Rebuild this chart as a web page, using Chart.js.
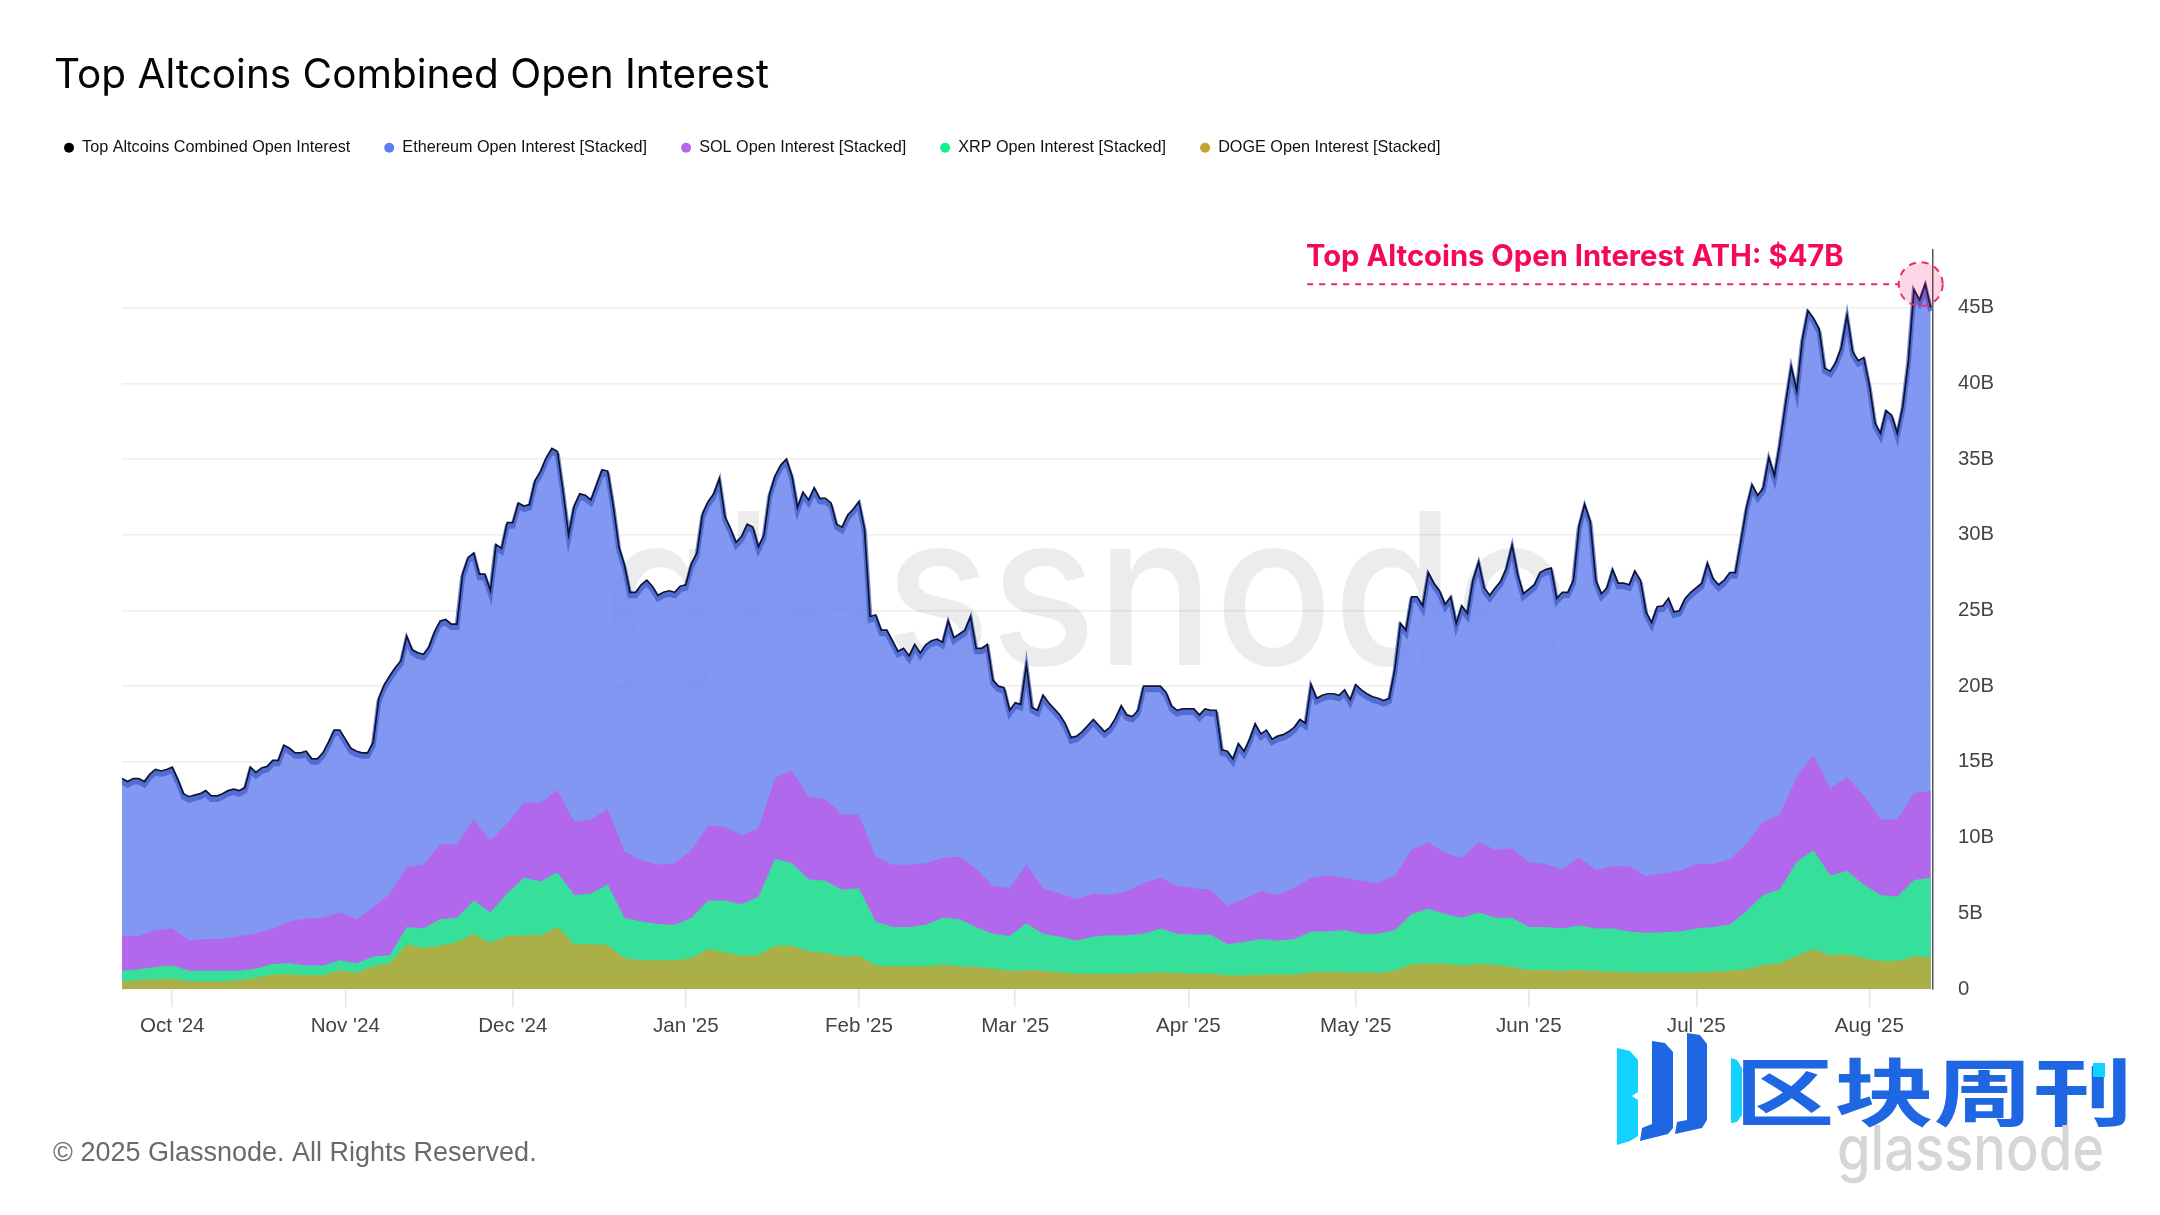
<!DOCTYPE html>
<html>
<head>
<meta charset="utf-8">
<style>html,body{margin:0;padding:0;background:#fff}canvas{display:block}</style>
<script src="https://cdn.jsdelivr.net/npm/chart.js@4/dist/chart.umd.min.js"></script>
</head>
<body>
<canvas id="c" width="2160" height="1215"></canvas>
<script>
const titleText = "Top Altcoins Combined Open Interest";
const seriesNames = ["Top Altcoins Combined Open Interest","Ethereum Open Interest [Stacked]","SOL Open Interest [Stacked]","XRP Open Interest [Stacked]","DOGE Open Interest [Stacked]"];
const tickDays = [9,40,70,101,132,160,191,221,252,282,313];
const tickLabels = ["Oct '24","Nov '24","Dec '24","Jan '25","Feb '25","Mar '25","Apr '25","May '25","Jun '25","Jul '25","Aug '25"];
const yTicks = [0,5,10,15,20,25,30,35,40,45];
const athLevel = 46.55;
// Daily readings, billions USD, first value = 22 Sep 2024
const combined = [13.9,13.7,13.9,13.9,13.7,14.2,14.5,14.4,14.5,14.65,13.85,12.9,12.7,12.8,12.9,13.1,12.75,12.75,12.9,13.1,
13.2,13.1,13.3,14.65,14.3,14.6,14.7,15.1,15.1,16.1,15.9,15.6,15.6,15.7,15.2,15.2,15.6,16.3,17.1,17.1,
16.5,15.9,15.7,15.6,15.6,16.3,19.2,20.1,20.7,21.25,21.7,23.3,22.4,22.2,22.1,22.6,23.6,24.3,24.4,24.1,
24.1,27.4,28.5,28.8,27.4,27.4,26.3,29.35,29.1,30.8,30.8,32.1,31.9,32.0,33.6,34.2,35.1,35.7,35.5,32.9,
30.0,31.9,32.7,32.6,32.3,33.3,34.3,34.2,31.9,29.2,28.0,26.2,26.2,26.7,27.0,26.6,26.0,26.2,26.3,26.2,
26.6,26.7,28.1,28.8,31.4,32.2,32.7,33.7,31.2,30.4,29.5,29.9,30.7,30.5,29.2,30.0,32.7,33.9,34.6,35.0,
33.9,31.8,32.8,32.3,33.1,32.4,32.4,32.1,30.7,30.5,31.3,31.7,32.2,30.4,24.6,24.7,23.7,23.7,23.0,22.3,
22.5,22.0,22.75,22.2,22.75,23.0,23.1,22.9,24.3,23.2,23.45,23.7,24.6,22.5,22.5,22.75,20.4,20.0,19.9,18.4,
18.9,18.8,21.4,18.6,18.4,19.4,18.9,18.5,18.1,17.5,16.6,16.7,17.0,17.4,17.8,17.4,17.0,17.3,17.9,18.7,
18.1,18.0,18.4,20.0,20.0,20.0,20.0,19.6,18.7,18.4,18.5,18.5,18.5,18.1,18.5,18.4,18.4,15.8,15.7,15.2,
16.2,15.7,16.5,17.5,16.85,17.1,16.5,16.7,16.8,17.0,17.3,17.8,17.55,20.1,19.2,19.4,19.5,19.5,19.4,19.75,
19.1,20.1,19.75,19.5,19.3,19.2,19.05,19.2,21.1,24.15,23.7,25.9,25.9,25.3,27.5,26.8,26.3,25.4,25.9,24.15,
25.3,24.8,27.0,28.2,26.5,26.0,26.5,26.95,27.8,29.3,27.4,26.1,26.4,26.7,27.5,27.7,27.8,25.8,26.2,26.2,
27.0,30.6,32.0,30.9,27.0,26.1,26.5,27.7,26.8,26.8,26.7,27.6,27.0,24.9,24.2,25.25,25.3,25.8,24.9,25.0,
25.8,26.2,26.5,26.8,28.1,27.1,26.7,27.0,27.5,27.5,29.6,31.8,33.3,32.6,33.1,35.1,33.9,36.1,38.7,41.1,
39.5,42.9,44.8,44.3,43.6,41.0,40.8,41.4,42.4,44.5,42.1,41.5,41.7,39.9,37.4,36.7,38.2,37.9,36.7,38.5,
41.5,46.2,45.5,46.55,45.0];
// Stack tops read every third day, billions USD
const solTop = [3.54,3.5,3.9,4.0,3.2,3.3,3.3,3.5,3.65,4.0,4.45,4.65,4.7,5.05,4.6,5.4,6.3,8.05,8.2,9.55,9.55,11.2,9.8,10.95,12.3,12.3,13.15,11.05,
11.2,11.9,9.1,8.5,8.2,8.3,9.2,10.8,10.7,10.15,10.6,13.95,14.4,12.7,12.55,11.5,11.5,8.75,8.2,8.2,8.3,8.65,8.75,7.95,6.8,6.65,8.2,6.65,
6.3,5.95,6.3,6.2,6.45,7.0,7.35,6.8,6.65,6.55,5.5,5.95,6.45,6.2,6.65,7.35,7.5,7.35,7.15,7.0,7.5,9.2,9.7,9.0,8.65,9.7,9.2,
9.3,8.35,8.25,7.9,8.7,7.85,8.1,8.1,7.45,7.65,7.8,8.25,8.25,8.55,9.6,11.05,11.5,14.0,15.45,13.25,14.0,12.8,11.2,11.2,12.95,13.1];
const xrpTop = [1.2,1.3,1.45,1.55,1.2,1.2,1.2,1.2,1.35,1.65,1.7,1.55,1.55,1.9,1.7,2.15,2.25,4.1,4.0,4.6,4.7,5.85,5.05,6.3,7.35,7.1,7.7,6.2,
6.3,6.9,4.7,4.45,4.3,4.25,4.7,5.85,5.85,5.6,6.1,8.6,8.3,7.25,7.15,6.55,6.65,4.45,4.1,4.1,4.25,4.7,4.6,4.1,3.65,3.5,4.35,3.65,
3.45,3.2,3.45,3.55,3.55,3.65,4.0,3.65,3.6,3.6,2.95,3.1,3.3,3.2,3.3,3.8,3.8,3.9,3.65,3.65,3.9,4.95,5.3,4.95,4.7,5.05,4.7,
4.7,4.1,4.1,4.0,4.2,4.0,4.0,3.8,3.7,3.75,3.8,4.0,4.1,4.25,5.15,6.2,6.6,8.4,9.15,7.5,7.8,6.9,6.2,6.1,7.2,7.35];
const dogeTop = [0.5,0.6,0.65,0.7,0.5,0.5,0.5,0.6,0.75,0.95,0.95,0.9,0.9,1.25,1.05,1.5,1.7,2.95,2.7,2.85,3.1,3.65,3.05,3.5,3.55,3.55,4.1,2.95,
2.95,2.9,2.05,1.9,1.9,1.9,2.05,2.65,2.4,2.2,2.25,2.85,2.85,2.5,2.4,2.15,2.2,1.55,1.5,1.5,1.5,1.6,1.5,1.45,1.35,1.2,1.25,1.2,
1.1,1.0,1.0,1.0,1.0,1.05,1.1,1.05,1.0,1.0,0.9,0.9,0.95,0.95,0.95,1.1,1.15,1.1,1.1,1.05,1.2,1.65,1.7,1.65,1.55,1.65,1.6,
1.45,1.25,1.25,1.2,1.25,1.2,1.15,1.1,1.1,1.1,1.1,1.1,1.15,1.2,1.3,1.6,1.7,2.2,2.65,2.25,2.3,2.05,1.85,1.85,2.15,2.1];

const legendColors = ["#000000","#5f7df0","#b566ee","#14f08f","#c2a534"];
const SANS = '"Liberation Sans", Arial, sans-serif';
const daily = a => a.map((y,i)=>({x:i,y}));
const third = a => a.map((y,i)=>({x:i*3,y}));
const BAND_SHIFT = 3.5;

const layers = {
  id:'layers',
  beforeDatasetDraw(chart,args){
    if(args.index===1){chart.ctx.save();chart.ctx.translate(0,BAND_SHIFT);}
  },
  afterDatasetDraw(chart,args){
    if(args.index===1){chart.ctx.restore();}
  },
  afterLayout(chart){
    chart.titleBlock.left += 24; chart.titleBlock.right += 24;
  },
  beforeDatasetsDraw(chart){
    const c=chart.ctx; c.save();
    c.font='500 212px Inter, sans-serif'; c.fillStyle='rgba(0,0,0,0.075)';
    c.textAlign='left'; c.textBaseline='alphabetic';
    c.fillText('glassnode',602,665,968);
    c.restore();
  },
  afterDraw(chart){
    const c=chart.ctx, x=chart.scales.x, y=chart.scales.y; c.save();
    // ATH annotation
    const ay=y.getPixelForValue(athLevel), cx=x.getPixelForValue(322.2);
    c.strokeStyle='#ec2a6e'; c.lineWidth=2; c.setLineDash([6,6]);
    c.beginPath(); c.moveTo(x.getPixelForValue(212.3),ay); c.lineTo(cx-22,ay); c.stroke();
    c.fillStyle='rgba(245,20,100,0.17)'; c.setLineDash([7,6]);
    c.beginPath(); c.arc(cx,ay,22,0,Math.PI*2); c.fill(); c.stroke();
    c.setLineDash([]);
    c.fillStyle='#f5075b'; c.font='700 29.2px Inter, sans-serif'; c.textBaseline='middle'; c.textAlign='left';
    c.fillText('Top Altcoins Open Interest ATH: $47B',1306,257);
    // footer
    c.fillStyle='#6a6a6a'; c.font='27px '+SANS; c.fillText('© 2025 Glassnode. All Rights Reserved.',53,1154);
    // corner logo
    const poly=(col,p)=>{c.fillStyle=col;c.beginPath();p.forEach((q,i)=>i?c.lineTo(q[0],q[1]):c.moveTo(q[0],q[1]));c.closePath();c.fill();};
    poly('#12d2ff',[[1617,1048],[1630,1051],[1638,1060],[1638,1092],[1632,1096],[1638,1100],[1638,1136],[1630,1141],[1617,1145]]);
    poly('#1e66e2',[[1652,1041],[1665,1043],[1673,1052],[1673,1128],[1668,1134],[1640,1141],[1642,1128],[1652,1124]]);
    poly('#1e66e2',[[1687,1033],[1700,1035],[1707,1044],[1707,1120],[1702,1128],[1675,1134],[1677,1122],[1687,1120]]);
    poly('#12d2ff',[[1731,1058],[1737,1060],[1742,1068],[1742,1115],[1737,1122],[1731,1123]]);
    c.fillStyle='#1e66e2'; c.textBaseline='middle'; c.textAlign='left';
    c.save(); c.translate(1735,1092); c.scale(1.343,1);
    c.font='700 74px "Noto Sans CJK SC", sans-serif'; c.fillText('区块周刊',0,0); c.restore();
    poly('#12d2ff',[[2093,1063],[2105,1063],[2105,1077],[2093,1077]]);
    c.fillStyle='#d6d6d6'; c.font='500 62px Inter, sans-serif'; c.textBaseline='alphabetic';
    c.fillText('glassnode',1837,1170,267);
    c.restore();
  }
};

new Chart(document.getElementById('c'),{
  type:'line',
  plugins:[layers],
  data:{datasets:[
    {label:seriesNames[0],data:daily(combined),xAxisID:'x',yAxisID:'y',order:0,borderColor:'#0c1430',borderWidth:1.7,pointRadius:0,tension:0,fill:false},
    {label:seriesNames[1],data:daily(combined),xAxisID:'x',yAxisID:'y',order:4,borderColor:'rgba(62,88,194,0.68)',borderWidth:5,backgroundColor:'rgba(113,138,239,0.89)',pointRadius:0,tension:0,fill:'origin',clip:{left:0,top:0,right:0,bottom:-BAND_SHIFT}},
    {label:seriesNames[2],data:third(solTop),xAxisID:'x',yAxisID:'y',order:3,borderWidth:0,borderColor:'#b268ec',backgroundColor:'#b268ec',pointRadius:0,tension:0,fill:'origin'},
    {label:seriesNames[3],data:third(xrpTop),xAxisID:'x',yAxisID:'y',order:2,borderWidth:0,borderColor:'#36e09a',backgroundColor:'#36e09a',pointRadius:0,tension:0,fill:'origin'},
    {label:seriesNames[4],data:third(dogeTop),xAxisID:'x',yAxisID:'y',order:1,borderWidth:0,borderColor:'#abaf48',backgroundColor:'#abaf48',pointRadius:0,tension:0,fill:'origin'}
  ]},
  options:{
    responsive:false,animation:false,devicePixelRatio:1,
    layout:{padding:{left:30,right:0,top:0,bottom:0}},
    plugins:{
      tooltip:{enabled:false},
      title:{display:true,text:titleText,align:'start',color:'#050505',font:{family:'Inter, sans-serif',size:40.5,weight:'400'},padding:{top:51.5,bottom:5.5}},
      legend:{display:true,position:'top',align:'start',
        labels:{font:{family:SANS,size:16.2},color:'#111',usePointStyle:true,pointStyleWidth:10,boxHeight:7,padding:34,
          generateLabels:()=>seriesNames.map((t,i)=>({text:t,fillStyle:legendColors[i],strokeStyle:legendColors[i],lineWidth:0,pointStyle:'circle',datasetIndex:i,hidden:false,fontColor:'#111'})),
          sort:(a,b)=>a.datasetIndex-b.datasetIndex}}
    },
    scales:{
      x:{type:'linear',position:'bottom',min:0,max:324.4,
        afterBuildTicks(s){s.ticks=tickDays.map(v=>({value:v}));},
        afterFit(s){s.height=226;},
        grid:{drawOnChartArea:false,drawTicks:true,tickLength:18,color:'#e4e4e4',lineWidth:1.5},
        border:{display:false},
        ticks:{autoSkip:false,maxRotation:0,padding:7,color:'#444',font:{family:SANS,size:20.6},callback:v=>tickLabels[tickDays.indexOf(v)]}},
      y:{type:'linear',position:'right',min:0,max:48.82,
        afterBuildTicks(s){s.ticks=yTicks.map(v=>({value:v}));},
        afterFit(s){s.width=227;},
        grid:{drawTicks:false,color:'#eeeeee',lineWidth:1.5},
        border:{display:true,color:'#555',width:1.5},
        ticks:{padding:25,color:'#444',font:{family:SANS,size:20.3},callback:v=>v===0?'0':v+'B'}},
      leftPad:{type:'linear',position:'left',display:true,afterFit(s){s.width=92;},grid:{display:false},border:{display:false},ticks:{display:false}},
      topPad:{type:'linear',position:'top',display:true,afterFit(s){s.height=84;},grid:{display:false},border:{display:false},ticks:{display:false}}
    }
  }
});
</script>
</body>
</html>
